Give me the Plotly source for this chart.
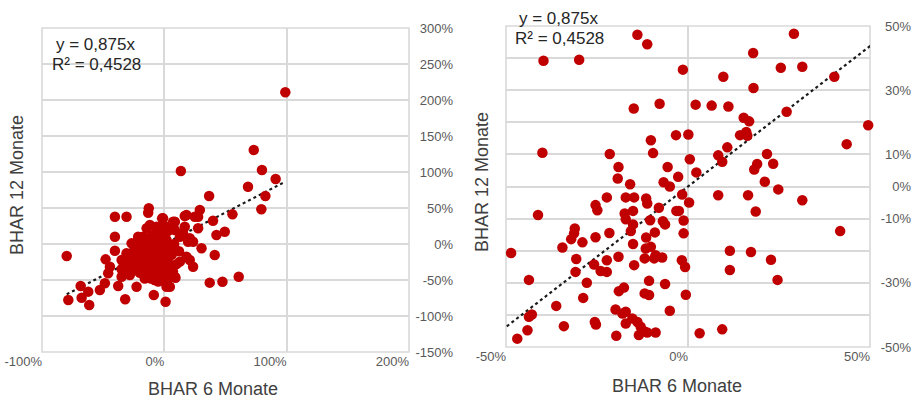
import plotly.graph_objects as go

# ---------------- data ----------------
# Left chart: BHAR 6 Monate (x, %) vs BHAR 12 Monate (y, %)
left_x = [98.9, 73.1, 79.8, 91.0, 13.5, 68.4, 36.6, 82.6,
          79.3, 55.7, 29.0, 39.8, 42.6, 49.4, 30.4, 41.2, 23.5, 12.7, 20.8,
          60.8, 47.5, 37.1, 9.1, 4.5, 1.0, -8.6, -32.0, -37.7, -61.4, -67.6,
          -68.4, -62.2, -78.5, -79.8, -52.7, -48.6, -40.4, -30.9, -40.4, -40.4,
          -48.0, -12.7, -13.2, -1.8, 16.7, 27.6, 8.6, 1.8, -14.5, -21.4,
          15.3, 20.8, 23.5, 27.6,
          -44.5, -45.9, -34.9, -34.9, -28.2, -21.4, -17.3, -11.8, -3.7, -1.0,
          7.2, -7.8, -25.5, -17.3, -11.8, -3.7, 3.1, 8.6, -22.7, 1.8,
          -28.2, -30.9, -20.0, -14.5, -9.1, -5.1, 0.4, -1.0, -6.4, -13.2,
          -21.4, -25.5, -30.9, -11.8, -15.9, -3.7, 0.4, -6.4, -22.7, -26.8,
          18.1, 19.4, 24.9, 18.1, 16.7, 8.6, 1.8, 5.9, -1.0, -9.1, -6.4, 12.7,
          -30, -28, -26, -25, -24, -23, -22, -21, -20, -19, -18, -17, -16, -15,
          -14, -13, -12, -11, -10, -10, -9, -8, -7, -6, -5, -4, -3, -2, -2, -1,
          0, 1, 2, 3, 4, 5, 6, -18, -14, -10, -6, -3, 0, 3, -22, -27, -16, -8,
          -12, -20, -33, -35, -29, 7, 10, 12, 8, -15, -7, -4, 1, -1, -24, -19,
          -11, -5]
left_y = [210.7, 130.6, 102.8, 90.3, 101.4, 79.6, 66.7, 66.7,
          48.2, 41.2, 47.2, 32.4, 12.5, 17.1, -6.0, -15.3, -31.5, -24.5, -22.2,
          -45.4, -52.4, -53.7, -46.8, -59.3, -80.1, -70.8, -76.8, -58.3, -84.7, -74.6,
          -58.3, -66.2, -77.8, -16.7, -63.9, -54.6, 37.9, 37.9, 10.1, -9.3,
          -21.3, 49.6, 43.5, 35.6, 38.9, 37.9, 31.0, 24.0, 21.8, 10.1,
          14.9, 7.9, 3.2, 21.8,
          -31.5, -40.7, -22.2, -45.4, -43.1, 5.6, 10.1, 26.4, 24.0, 35.6,
          31.0, -1.4, -17.6, -36.1, -45.4, -40.7, -47.6, -45.4, -59.3, -59.3,
          -22.2, -12.9, -12.9, -22.2, -22.2, -12.9, -17.6, -29.2, -31.5, -33.8,
          -31.5, -33.8, -31.5, -3.7, -8.3, 5.6, 0.9, 14.9, -3.7, 0.9,
          -17.6, 3.2, 37.9, 40.3, 24.0, 19.4, 5.6, -3.7, -22.2, 5.6, 24.0, 10.1,
          -20, -15, -25, -10, -30, -18, -5, -38, -25, -15, -30, -8, -20, -40,
          -28, -12, -35, -18, -5, -42, -28, -14, -38, -22, -8, -30, -15, -45, -2, -35,
          -25, -10, -38, -20, -5, -30, -15, 0, 5, 12, 2, 15, 10, 18, -12, -35, -48, -50,
          -25, -40, -28, -35, -40, -38, -28, -10, 0, -2, -28, -42, -50, -18, -20, -33,
          -48, -52]

# Right chart (zoomed view)
right_x = [-13.9, -11.2, -39.7, -29.9, 29.1, 17.9, -1.4, 25.5, 31.4, 40.2,
           9.7, 18.0, -14.9, -7.8, 2.1, 6.5, 11.1, 27.1, 15.3, 16.8,
           49.5, -10.2, -3.3, 0.1, 14.3, 16.0, 16.3, 10.8, 43.6, -40.0,
           -21.5, -9.6, 8.3, 0.5, 9.4, 21.7, 23.4, 19.0, 18.2, -19.1,
           -5.6, 2.3, -19.3, -15.9, -6.7, -5.0, -2.7, 21.1, 24.8, -22.3,
           -17.1, -14.8, -11.5, -1.6, 8.3, 16.5, 31.4, 0.3, -2.5, -1.2,
           -1.2, 18.6, 41.8, 11.5, 17.3, 22.8, 11.5, 24.6, -1.7, -0.8,
           -0.6, 3.2, 9.4, -25.4, -24.9, -41.2, -17.4, -17.1, -15.1, -11.2,
           -8.0, -3.2, -10.4, -6.9, -6.3, -15.1, -15.7, -9.1, -31.1, -31.3,
           -32.1, -29.0, -25.4, -21.6, -34.5, -48.6, -15.1, -11.5, -11.6, -10.2,
           -8.9, -11.9, -7.1, -9.3, -19.1, -22.3, -30.7, -25.8, -24.0, -22.3,
           -30.9, -14.8, -43.7, -27.8, -10.7, -6.3, -19.0, -17.6, -11.9, -10.7,
           -28.8, -36.2, -19.9, -17.1, -18.0, -5.0, -42.9, -43.7, -34.1, -25.6,
           -25.3, -17.1, -15.3, -13.9, -13.0, -12.1, -13.5, -11.2, -8.9, -19.7,
           -44.1, -46.9]
right_y = [47.3, 44.3, 39.2, 39.5, 47.6, 41.6, 36.4, 37.0, 37.3, 34.2,
           34.2, 30.7, 24.3, 25.8, 25.5, 25.2, 24.9, 23.3, 21.4, 20.3,
           19.1, 14.4, 16.0, 16.2, 16.0, 17.0, 15.8, 12.2, 13.2, 10.5,
           10.1, 10.4, 9.7, 8.5, 7.7, 10.1, 7.1, 7.0, 5.3, 6.1,
           6.1, 4.4, 2.5, 0.7, 1.3, 0.0, 3.0, 1.5, -0.9, -3.4,
           -3.4, -3.4, -3.7, -2.5, -2.7, -2.7, -4.3, -5.0, -7.6, -10.6,
           -14.6, -7.8, -13.9, -20.0, -20.4, -22.8, -26.0, -29.1, -23.0, -25.1,
           -33.7, -45.7, -44.5, -5.8, -7.4, -8.9, -8.4, -10.2, -7.6, -5.3,
           -6.6, -7.6, -10.5, -10.8, -11.8, -11.8, -13.9, -14.3, -13.1, -14.6,
           -16.4, -17.4, -15.8, -14.5, -19.0, -20.7, -17.9, -15.9, -19.3, -18.8,
           -21.4, -22.4, -22.1, -22.4, -21.9, -23.0, -22.6, -24.3, -26.3, -26.6,
           -26.6, -24.5, -29.1, -30.0, -29.4, -30.4, -32.6, -31.5, -33.3, -33.8,
           -34.7, -37.2, -38.3, -39.0, -39.6, -38.7, -39.9, -40.6, -43.5, -42.2,
           -43.0, -42.7, -41.1, -42.2, -43.7, -45.1, -46.3, -45.5, -45.5, -46.5,
           -44.8, -47.4]

slope = 0.875
equation = "y = 0,875x"
r_squared = "R² = 0,4528"

left_xticks = [-100, 0, 100, 200]
left_yticks = [-150, -100, -50, 0, 50, 100, 150, 200, 250, 300]
right_xticks = [-50, 0, 50]
right_yticks = [-50, -40, -30, -20, -10, 0, 10, 20, 30, 40, 50]
right_ylabels = ["-50%", "", "-30%", "", "-10%", "0%", "10%", "", "30%", "", "50%"]

x_title = "BHAR 6 Monate"
y_title = "BHAR 12 Monate"

# ---------------- figure ----------------
W, H = 913, 399
RED = "#C00000"
GRID = "#D9D9D9"
TICK = "#595959"
TXT = "#404040"
FONT = "Liberation Sans, Arial, sans-serif"

def fx(px):
    return px / W

def fy(py):
    return 1 - py / H

fig = go.Figure()

# trend lines (span of the left data, clipped by the axes)
tx = [min(left_x), max(left_x)]
ty = [slope * v for v in tx]

for xa, ya, xs, ys in [("x", "y", left_x, left_y), ("x2", "y2", right_x, right_y)]:
    fig.add_trace(go.Scatter(
        x=tx, y=ty, mode="lines", xaxis=xa, yaxis=ya,
        line=dict(color="#1a1a1a", width=2.2, dash="dot"),
        hoverinfo="skip", showlegend=False))
    fig.add_trace(go.Scatter(
        x=xs, y=ys, mode="markers", xaxis=xa, yaxis=ya,
        marker=dict(color=RED, size=10.5, line=dict(width=0)),
        cliponaxis=False, showlegend=False))

common_axis = dict(showgrid=True, gridcolor=GRID, gridwidth=1.6, zeroline=False,
                   showline=False, ticks="", automargin=False,
                   tickfont=dict(family=FONT, size=13, color=TICK))

fig.update_layout(
    width=W, height=H,
    margin=dict(l=0, r=0, t=0, b=0, autoexpand=False),
    paper_bgcolor="white", plot_bgcolor="white",
    font=dict(family=FONT),
    xaxis=dict(domain=[fx(42), fx(409)], range=[-100, 200], anchor="y",
               tickvals=left_xticks, ticktext=[f"{v}%" for v in left_xticks],
               ticklabelposition="outside left", **common_axis),
    yaxis=dict(domain=[fy(352), fy(28)], range=[-150, 300], anchor="free",
               position=fx(453), side="left",
               tickvals=left_yticks, ticktext=[f"{v}%" for v in left_yticks],
               **common_axis),
    xaxis2=dict(domain=[fx(506), fx(870)], range=[-50, 50], anchor="y2",
                tickvals=right_xticks, ticktext=[f"{v}%" for v in right_xticks],
                ticklabelposition="outside left", **common_axis),
    yaxis2=dict(domain=[fy(347), fy(26)], range=[-50, 50], anchor="free",
                position=fx(911), side="left",
                tickvals=right_yticks, ticktext=right_ylabels,
                **common_axis),
)

# plot-area frames
shapes = []
for xr, yr in [("x domain", "y domain"), ("x2 domain", "y2 domain")]:
    shapes.append(dict(type="rect", xref=xr, yref=yr, x0=0, x1=1, y0=0, y1=1,
                       line=dict(color=GRID, width=1.6), layer="below"))
fig.update_layout(shapes=shapes)

ann_font = dict(family=FONT, size=18, color=TXT)
eq_font = dict(family=FONT, size=17, color="#262626")
annotations = [
    dict(text=x_title, x=fx(213), y=fy(389), font=ann_font),
    dict(text=x_title, x=fx(677), y=fy(386), font=ann_font),
    dict(text=y_title, x=fx(17), y=fy(185), textangle=-90, font=ann_font),
    dict(text=y_title, x=fx(482), y=fy(182), textangle=-90, font=ann_font),
    dict(text=equation, x=fx(95), y=fy(45), font=eq_font),
    dict(text=r_squared, x=fx(96), y=fy(65), font=eq_font),
    dict(text=equation, x=fx(558), y=fy(18), font=eq_font),
    dict(text=r_squared, x=fx(559), y=fy(38), font=eq_font),
]
for a in annotations:
    a.update(xref="paper", yref="paper", showarrow=False,
             xanchor="center", yanchor="middle")
fig.update_layout(annotations=annotations)

fig.write_html("out.html",
               config={"displayModeBar": False},
               post_script="document.body.style.margin='0px';"
                           "document.body.style.overflow='hidden';")
